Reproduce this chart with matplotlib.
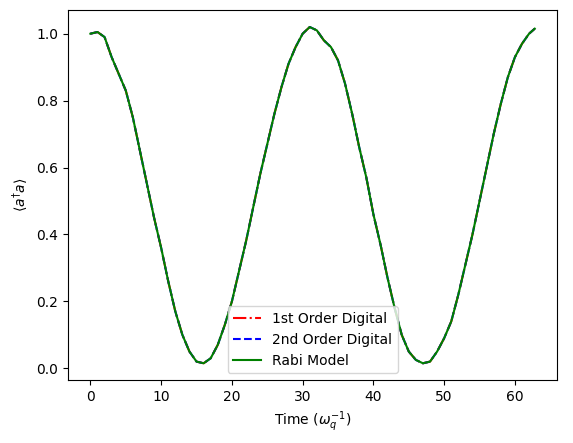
import numpy as np
import matplotlib.pyplot as plt

# Time samples and <a^dagger a> values
time = [0, 1, 2, 3, 4, 5, 6, 7, 8, 9, 10, 11, 12, 13, 14, 15, 16, 17, 18, 19,
        20, 21, 22, 23, 24, 25, 26, 27, 28, 29, 30, 31, 32, 33, 34, 35, 36, 37,
        38, 39, 40, 41, 42, 43, 44, 45, 46, 47, 48, 49, 50, 51, 52, 53, 54, 55,
        56, 57, 58, 59, 60, 61, 62, 62.8]
rabi = [1.00, 1.005, 0.99, 0.93, 0.88, 0.83, 0.75, 0.65, 0.55, 0.45, 0.36, 0.26,
        0.17, 0.10, 0.05, 0.02, 0.015, 0.03, 0.07, 0.13, 0.20, 0.29, 0.38, 0.48,
        0.58, 0.67, 0.76, 0.84, 0.91, 0.96, 1.00, 1.02, 1.01, 0.98, 0.96, 0.92,
        0.85, 0.76, 0.66, 0.57, 0.46, 0.37, 0.27, 0.18, 0.10, 0.05, 0.025, 0.015,
        0.02, 0.05, 0.09, 0.14, 0.22, 0.31, 0.40, 0.50, 0.60, 0.70, 0.79, 0.87,
        0.93, 0.97, 1.00, 1.015]
first_order = rabi
second_order = rabi

fig, ax = plt.subplots(figsize=(5.73, 4.43), dpi=100)
ax.plot(time, first_order, color='red', linestyle='-.', label='1st Order Digital')
ax.plot(time, second_order, color='blue', linestyle='--', label='2nd Order Digital')
ax.plot(time, rabi, color='green', label='Rabi Model')
ax.set_xlabel(r'Time ($\omega_q^{-1}$)')
ax.set_ylabel(r'$\langle a^{\dagger}a\rangle$')
ax.legend(loc='lower center')
fig.subplots_adjust(left=0.119, right=0.972, top=0.977, bottom=0.142)
fig.savefig('out.png')
